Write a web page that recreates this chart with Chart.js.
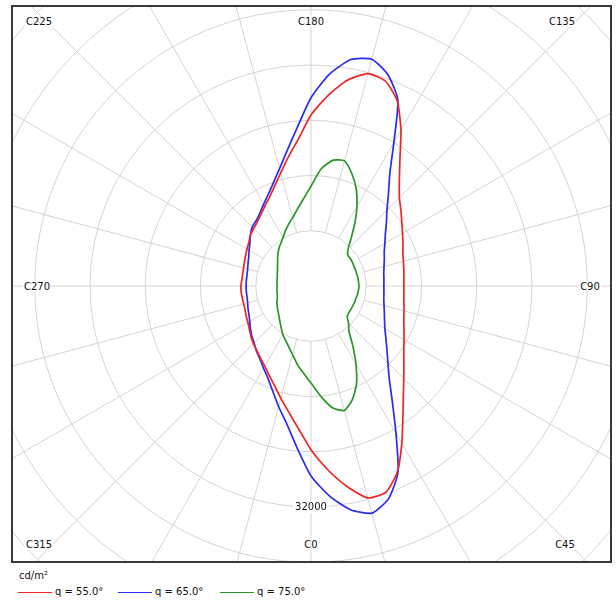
<!DOCTYPE html>
<html>
<head>
<meta charset="utf-8">
<script src="https://cdn.jsdelivr.net/npm/chart.js@4.4.1/dist/chart.umd.min.js"></script>
<style>
  html, body { margin: 0; padding: 0; background: #fff; }
  body { width: 616px; height: 603px; position: relative; overflow: hidden; font-family: "DejaVu Sans", sans-serif; color: #111; }
  #frame { position: absolute; left: 11px; top: 5px; width: 601px; height: 558px; box-sizing: border-box; border: 2px solid #3a3a3a; overflow: hidden; }
  #plot { position: absolute; left: 0; top: 0; width: 597px; height: 554px; }
  .clab { position: absolute; z-index: 2; font-size: 10px; line-height: 11px; background: #fff; padding: 0 1px; transform: translate(-50%, -50%); white-space: nowrap; }
  #unit { position: absolute; left: 19px; top: 570px; font-size: 10px; }
  #legend { position: absolute; left: 18px; top: 586px; font-size: 10px; line-height: 12px; white-space: nowrap; }
  .item { position: absolute; top: 0; }
  .item i { display: inline-block; width: 34px; height: 0; border-top: 1.5px solid; vertical-align: middle; margin-right: 3px; }
</style>
</head>
<body>
<div id="frame"><div id="plot"><canvas id="polarChart"></canvas></div></div>
<div id="labels"></div>
<div id="unit">cd/m²</div>
<div id="legend"></div>
<script>
// C-plane angles (degrees), one value per 5 degrees
const cAngles = [0, 5, 10, 15, 20, 25, 30, 35, 40, 45, 50, 55, 60, 65, 70, 75, 80, 85,
  90, 95, 100, 105, 110, 115, 120, 125, 130, 135, 140, 145, 150, 155, 160, 165, 170, 175,
  180, 185, 190, 195, 200, 205, 210, 215, 220, 225, 230, 235, 240, 245, 250, 255, 260, 265,
  270, 275, 280, 285, 290, 295, 300, 305, 310, 315, 320, 325, 330, 335, 340, 345, 350, 355];

// luminance, cd/m2
const gamma55 = [23700, 26600, 29400, 31750, 31750, 29650, 26300, 23200, 20800, 19000, 17550, 16400, 15550, 14850, 14300, 13950, 13650, 13500,
  13450, 13500, 13650, 13850, 14150, 14700, 15300, 16050, 17000, 18100, 19900, 22450, 26050, 29550, 31550, 31850, 30250, 27650,
  24750, 21300, 18950, 16950, 15400, 14200, 13350, 12650, 12100, 11750, 11450, 11000, 10700, 10450, 10250, 10100, 10050, 10050,
  10150, 10150, 10100, 10100, 10150, 10350, 10550, 10900, 11350, 11800, 12200, 12750, 13400, 14300, 15400, 16850, 18550, 20750];
const gamma65 = [27500, 30500, 32900, 34050, 32800, 29800, 24600, 20550, 17650, 15750, 14350, 13250, 12350, 11750, 11300, 10950, 10700, 10600,
  10550, 10600, 10700, 10950, 11300, 11700, 12350, 13150, 14250, 15550, 17450, 19900, 24000, 29750, 32550, 34000, 33300, 30800,
  27250, 23000, 19900, 17600, 15900, 14650, 13700, 12900, 12350, 12050, 11450, 10800, 10350, 9950, 9700, 9500, 9400, 9400,
  9400, 9400, 9400, 9500, 9700, 9900, 10250, 10700, 11200, 11650, 12300, 12900, 13750, 14750, 16200, 18100, 20250, 23450];
const gamma75 = [14050, 16000, 17900, 18650, 17500, 15600, 13000, 10550, 8550, 7700, 6850, 6700, 6700, 6700, 6750, 6750, 6850, 6900,
  6950, 6900, 6900, 6850, 6850, 6850, 6900, 6950, 6950, 7600, 9050, 11050, 13300, 15500, 17300, 18750, 18500, 17050,
  14450, 12650, 11300, 10250, 9500, 8800, 8100, 7600, 7200, 6750, 6300, 5900, 5600, 5350, 5200, 5050, 5000, 4950,
  4900, 4950, 5000, 5050, 5200, 5450, 5650, 5900, 6150, 6500, 6950, 7500, 8150, 8700, 9400, 10300, 11500, 12650];

const seriesNames = ['q = 55.0°', 'q = 65.0°', 'q = 75.0°'];
const seriesColors = ['#f02424', '#2a2af0', '#2a962a'];

const ringStep = 8000;
const ringMax = 64000;
const ringLabels = [32000];

const cornerLabels = ['C225', 'C180', 'C135', 'C270', 'C90', 'C315', 'C0', 'C45'];
const cornerPos = [[39, 21], [311, 21], [562, 21], [37, 286], [590, 286], [39, 544], [311, 544], [565, 544]];

const GRID = '#d4d4d4';
const CENTER = { x: 298, y: 279 };   // pole, in canvas pixels
const RADIUS = 442;                  // radius of the ringMax circle

// radar runs clockwise from the bottom; the C-planes run counter-clockwise
const order = cAngles.map((_, i) => (cAngles.length - i) % cAngles.length);
const labels = order.map(k => 'C' + cAngles[k]);
const pick = arr => order.map(k => arr[k]);

const ringLabelPlugin = {
  id: 'ringLabels',
  beforeDatasetsDraw(chart) {
    const scale = chart.scales.r;
    const ctx = chart.ctx;
    ctx.save();
    ctx.font = '10px "DejaVu Sans", sans-serif';
    ctx.textAlign = 'center';
    ctx.textBaseline = 'middle';
    ringLabels.forEach(v => {
      const y = scale.yCenter + scale.getDistanceFromCenterForValue(v);
      const text = String(v);
      const w = ctx.measureText(text).width;
      ctx.fillStyle = '#fff';
      ctx.fillRect(scale.xCenter - w / 2 - 2, y - 6, w + 4, 12);
      ctx.fillStyle = '#111';
      ctx.fillText(text, scale.xCenter, y);
    });
    ctx.restore();
  }
};

new Chart(document.getElementById('polarChart'), {
  type: 'radar',
  data: {
    labels: labels,
    datasets: [gamma55, gamma65, gamma75].map((values, i) => ({
      label: seriesNames[i],
      data: pick(values),
      borderColor: seriesColors[i],
      backgroundColor: 'transparent',
      borderWidth: 1.7,
      pointRadius: 0,
      fill: false,
      tension: 0.2
    }))
  },
  options: {
    responsive: true,
    maintainAspectRatio: false,
    animation: false,
    layout: { padding: 0 },
    plugins: {
      legend: { display: false },
      tooltip: { enabled: false }
    },
    scales: {
      r: {
        startAngle: 180,
        min: 0,
        max: ringMax,
        ticks: { display: false, stepSize: ringStep },
        pointLabels: { display: false },
        grid: { color: GRID, lineWidth: 1, circular: true },
        angleLines: {
          color: GRID,
          lineWidth: ctx => (cAngles[order[ctx.index]] % 15 === 0 ? 1 : 0),
          borderDash: [0, RADIUS * ringStep / ringMax, 2000]
        },
        afterFit(scale) {
          scale.xCenter = CENTER.x;
          scale.yCenter = CENTER.y;
          scale.drawingArea = RADIUS;
        }
      }
    }
  },
  plugins: [ringLabelPlugin]
});

// C-plane labels sit in the corners and edge middles of the frame
const labelBox = document.getElementById('labels');
cornerLabels.forEach((text, i) => {
  const el = document.createElement('div');
  el.className = 'clab';
  el.textContent = text;
  el.style.left = cornerPos[i][0] + 'px';
  el.style.top = cornerPos[i][1] + 'px';
  labelBox.appendChild(el);
});

const legendBox = document.getElementById('legend');
const legendX = [0, 100, 202];
seriesNames.forEach((name, i) => {
  const el = document.createElement('span');
  el.className = 'item';
  el.style.left = legendX[i] + 'px';
  el.innerHTML = '<i style="border-color:' + seriesColors[i] + '"></i>' + name;
  legendBox.appendChild(el);
});
</script>
</body>
</html>
